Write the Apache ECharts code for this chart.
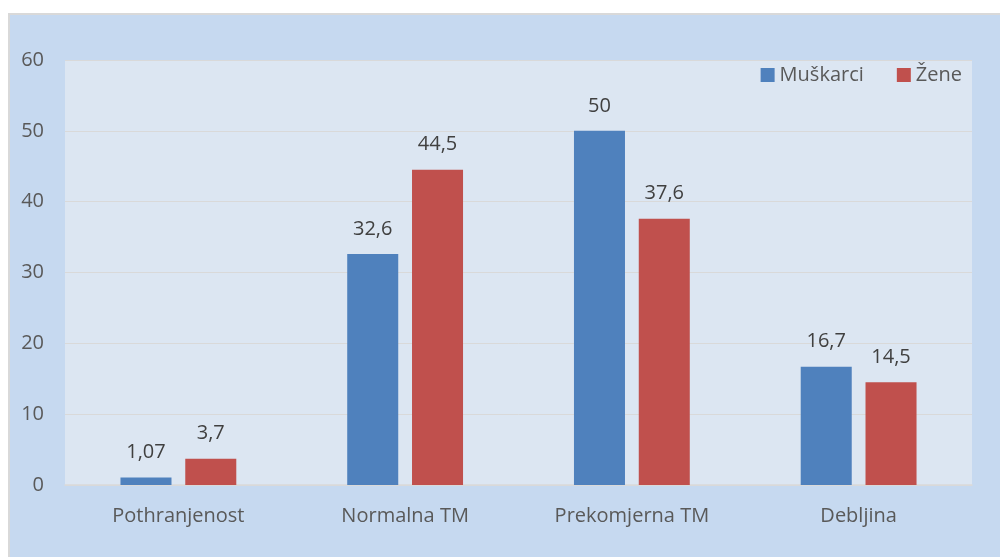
<!DOCTYPE html>
<html>
<head>
<meta charset="utf-8">
<script src="https://cdn.jsdelivr.net/npm/echarts@6/dist/echarts.min.js"></script>
<style>
  html, body { margin: 0; padding: 0; background: #ffffff; }
  #frame {
    position: absolute; left: 8px; top: 13px;
    width: 992px; height: 544px;
    background: #c6d9f0;
    border-left: 2px solid #d9d9d9; border-top: 2px solid #d9d9d9;
    box-sizing: border-box;
  }
  #chart { width: 100%; height: 100%; }
</style>
</head>
<body>
<div id="frame"><div id="chart"></div></div>
<script>
const categories = ['Pothranjenost', 'Normalna TM', 'Prekomjerna TM', 'Debljina'];
const muskarci = [1.07, 32.6, 50, 16.7];
const zene = [3.7, 44.5, 37.6, 14.5];
const seriesNames = ['Muškarci', 'Žene'];
const yTicks = { min: 0, max: 60, interval: 10 };

const FONT = '"Open Sans", "Liberation Sans", sans-serif';
const SIZE = 20;
const commaFmt = p => String(p.value).replace('.', ',');

const labelStyle = {
  show: true, position: 'top', distance: 15,
  color: '#404040', fontSize: SIZE, fontFamily: FONT,
  formatter: commaFmt
};

const chart = echarts.init(document.getElementById('chart'));
chart.setOption({
  animation: false,
  grid: {
    left: 55, right: 28, top: 45, bottom: 72,
    show: true, backgroundColor: '#dce6f2', borderWidth: 0
  },
  legend: {
    right: 33, top: 45,
    itemWidth: 14, itemHeight: 14, itemGap: 33,
    icon: 'rect',
    textStyle: { color: '#595959', fontSize: SIZE, fontFamily: FONT },
    data: seriesNames
  },
  xAxis: {
    type: 'category', data: categories,
    axisLine: { lineStyle: { color: '#d9d9d9', width: 1.5 } },
    axisTick: { show: false },
    axisLabel: { color: '#595959', fontSize: SIZE, fontFamily: FONT, margin: 21 }
  },
  yAxis: {
    type: 'value', min: yTicks.min, max: yTicks.max, interval: yTicks.interval,
    axisLine: { show: false }, axisTick: { show: false },
    splitLine: { lineStyle: { color: '#d9d9d9', width: 1 } },
    axisLabel: { color: '#595959', fontSize: SIZE, fontFamily: FONT, margin: 21 }
  },
  series: [
    {
      name: seriesNames[0], type: 'bar', data: muskarci,
      barWidth: '22.5%', barGap: '27%',
      itemStyle: { color: '#4f81bd' },
      label: labelStyle
    },
    {
      name: seriesNames[1], type: 'bar', data: zene,
      barWidth: '22.5%',
      itemStyle: { color: '#c0504d' },
      label: labelStyle
    }
  ]
});
</script>
</body>
</html>
